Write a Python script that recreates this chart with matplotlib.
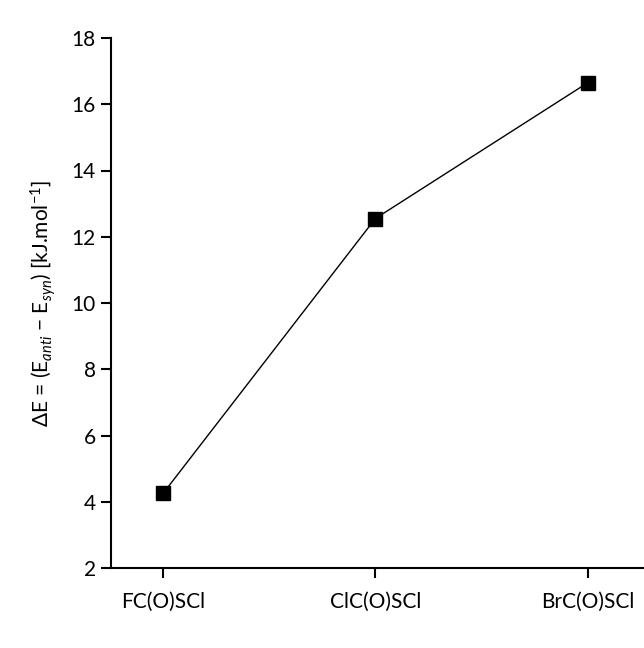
import matplotlib
matplotlib.use("Agg")
import matplotlib.pyplot as plt

categories = ["FC(O)SCl", "ClC(O)SCl", "BrC(O)SCl"]
values = [4.25, 12.55, 16.65]
yticks = [2, 4, 6, 8, 10, 12, 14, 16, 18]

plt.rcParams['font.family'] = ['Lato', 'DejaVu Sans']
plt.rcParams['mathtext.fontset'] = 'custom'
plt.rcParams['mathtext.rm'] = 'Lato'
plt.rcParams['mathtext.it'] = 'Lato:italic'

fig = plt.figure(figsize=(6.44, 6.48), dpi=100)
ax = fig.add_axes([111/644, 1 - 568/648, (644 - 111)/644, (568 - 38)/648])
x = list(range(len(categories)))
ax.plot(x, values, color='black', lw=1.0, marker='s', markersize=9.5,
        markerfacecolor='black', markeredgecolor='black')
ax.set_xlim(-0.245, 2.265)
ax.set_ylim(2, 18)
ax.set_yticks(yticks)
ax.set_xticks(x)
ax.set_xticklabels(categories)
for s in ['top', 'right']:
    ax.spines[s].set_visible(False)
for s in ['left', 'bottom']:
    ax.spines[s].set_linewidth(1.5)
ax.tick_params(direction='out', length=7, width=1.5, labelsize=15, pad=4)
ax.tick_params(axis='x', pad=10)
ax.set_ylabel(r'ΔE = (E$_{anti}$ − E$_{syn}$) [kJ.mol$^{-1}$]', fontsize=15, labelpad=10)
fig.savefig('out.png', dpi=100)
